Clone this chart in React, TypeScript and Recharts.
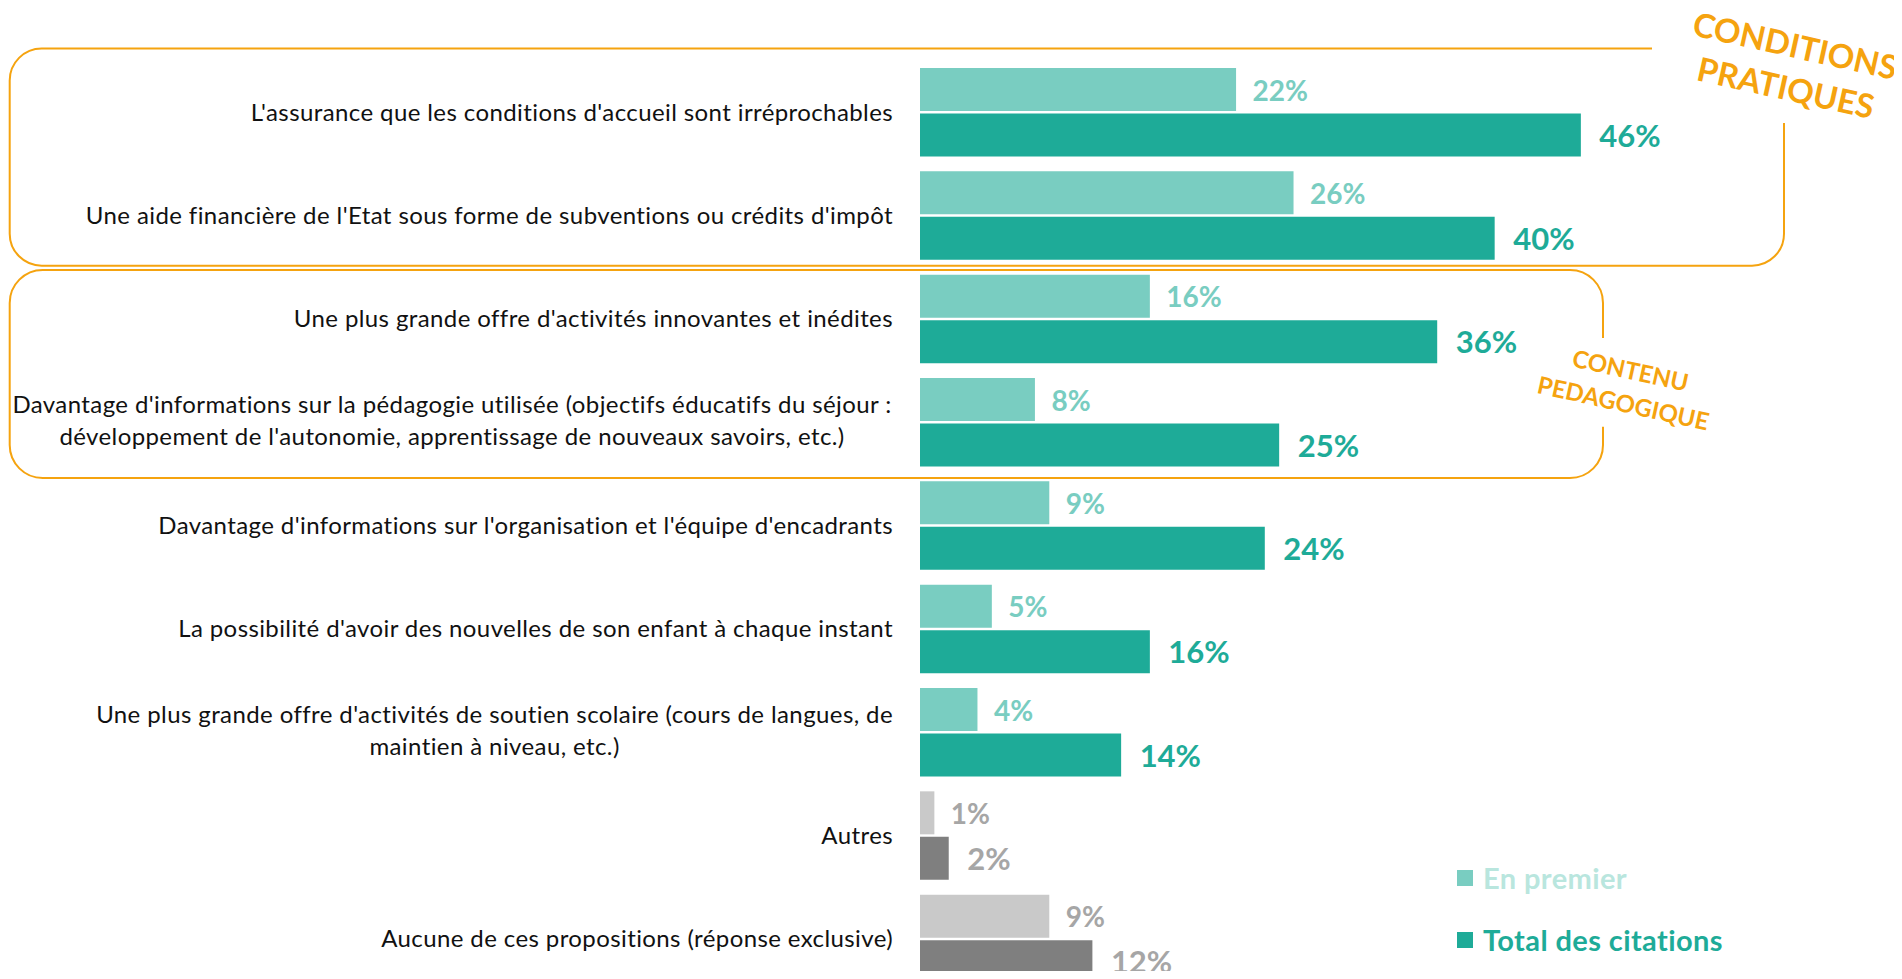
import React from 'react';
import { BarChart, Bar, XAxis, YAxis, Cell, LabelList, Legend } from 'recharts';

const categories = [
  "L'assurance que les conditions d'accueil sont irréprochables",
  "Une aide financière de l'Etat sous forme de subventions ou crédits d'impôt",
  "Une plus grande offre d'activités innovantes et inédites",
  "Davantage d'informations sur la pédagogie utilisée (objectifs éducatifs du séjour :\ndéveloppement de l'autonomie, apprentissage de nouveaux savoirs, etc.)",
  "Davantage d'informations sur l'organisation et l'équipe d'encadrants",
  "La possibilité d'avoir des nouvelles de son enfant à chaque instant",
  "Une plus grande offre d'activités de soutien scolaire (cours de langues, de\nmaintien à niveau, etc.)",
  "Autres",
  "Aucune de ces propositions (réponse exclusive)",
];
const enPremier = [22, 26, 16, 8, 9, 5, 4, 1, 9];
const totalCitations = [46, 40, 36, 25, 24, 16, 14, 2, 12];
const neutralCategories = ["Autres", "Aucune de ces propositions (réponse exclusive)"];
const seriesNames = ["En premier", "Total des citations"];
const groupTitles = [["CONDITIONS", "PRATIQUES"], ["CONTENU", "PEDAGOGIQUE"]];

const LIGHT = '#79cdc1';
const DARK = '#1eab98';
const GREY_LIGHT = '#c9c9c9';
const GREY_DARK = '#7f7f7f';
const GREY_TEXT = '#a6a6a6';
const LEGEND_LIGHT_TEXT = '#b9e6de';
const ORANGE = '#f5a30f';
const FONT = 'Lato, "Open Sans", sans-serif';

const data = categories.map((c, i) => ({
  category: c,
  premier: enPremier[i],
  total: totalCitations[i],
  neutral: neutralCategories.includes(c),
}));

let ctx: CanvasRenderingContext2D | null = null;
const measure = (s: string, font: string, ls: number) => {
  if (!ctx) ctx = document.createElement('canvas').getContext('2d');
  if (!ctx) return s.length * 11;
  ctx.font = font;
  return ctx.measureText(s).width + s.length * ls;
};

const LABEL_FS = 24;
const LABEL_LS = 0.4;

const CategoryTick = (props: any) => {
  const { x, y, payload } = props;
  const lines = String(payload.value).split('\n');
  const widths = lines.map((l) => measure(l, `${LABEL_FS}px Lato`, LABEL_LS));
  const maxW = Math.max(...widths);
  const lh = 31.5;
  const n = lines.length;
  return (
    <g>
      {lines.map((l, i) => (
        <text
          key={i}
          x={n > 1 ? x - maxW / 2 : x}
          y={y + (n > 1 ? 6.5 : 8) + (i - (n - 1) / 2) * lh}
          textAnchor={n > 1 ? 'middle' : 'end'}
          fontFamily={FONT}
          fontSize={LABEL_FS}
          letterSpacing={LABEL_LS}
          fill="#111"
        >
          {l}
        </text>
      ))}
    </g>
  );
};

const makeValueLabel = (series: 'premier' | 'total') => (props: any) => {
  const { x, y, width, height, value, index } = props;
  const row = data[index];
  const neutral = row ? row.neutral : props.payload?.neutral;
  const fs = series === 'premier' ? 28 : 31;
  const shift = series === 'premier' ? 11 : 11.5;
  const dx = series === 'premier' ? 16.5 : 18.5;
  const color = neutral ? GREY_TEXT : series === 'premier' ? LIGHT : DARK;
  return (
    <text
      x={Number(x) + Number(width) + dx}
      y={Number(y) + Number(height) / 2 + shift}
      fill={color}
      fontSize={fs}
      fontWeight={700}
      fontFamily={FONT}
    >
      {value}%
    </text>
  );
};

const legendTextColors: Record<string, string> = {
  [seriesNames[0]]: LEGEND_LIGHT_TEXT,
  [seriesNames[1]]: DARK,
};

const renderLegend = (props: any) => {
  const { payload = [] } = props;
  return (
    <div style={{ display: 'flex', flexDirection: 'column', gap: 31.5 }}>
      {payload.map((e: any, i: number) => (
        <div key={i} style={{ display: 'flex', alignItems: 'center', height: 30 }}>
          <span style={{ width: 16, height: 16, background: e.color, marginRight: 10, display: 'inline-block' }} />
          <span
            style={{
              fontFamily: FONT,
              fontWeight: 700,
              fontSize: 29,
              letterSpacing: 0.4,
              lineHeight: '30px',
              color: legendTextColors[e.value] || e.color,
              whiteSpace: 'nowrap',
            }}
          >
            {e.value}
          </span>
        </div>
      ))}
    </div>
  );
};

const r1 = 32;
const r2 = 33;
const box1 = { l: 9.7, t: 48.5, r: 1784, b: 265.7, gapX: 1652, gapY: 123 };
const box2 = { l: 9.7, t: 270, r: 1603, b: 478, gapTop: 338, gapBottom: 426.7 };

const path1 = `M ${box1.gapX} ${box1.t} L ${box1.l + r1} ${box1.t} A ${r1} ${r1} 0 0 0 ${box1.l} ${box1.t + r1} L ${box1.l} ${box1.b - r1} A ${r1} ${r1} 0 0 0 ${box1.l + r1} ${box1.b} L ${box1.r - r1} ${box1.b} A ${r1} ${r1} 0 0 0 ${box1.r} ${box1.b - r1} L ${box1.r} ${box1.gapY}`;
const path2 = `M ${box2.r} ${box2.gapTop} L ${box2.r} ${box2.t + r2} A ${r2} ${r2} 0 0 0 ${box2.r - r2} ${box2.t} L ${box2.l + r2} ${box2.t} A ${r2} ${r2} 0 0 0 ${box2.l} ${box2.t + r2} L ${box2.l} ${box2.b - r2} A ${r2} ${r2} 0 0 0 ${box2.l + r2} ${box2.b} L ${box2.r - r2} ${box2.b} A ${r2} ${r2} 0 0 0 ${box2.r} ${box2.b - r2} L ${box2.r} ${box2.gapBottom}`;

export default function App() {
  return (
    <div
      style={{
        position: 'relative',
        width: 1902,
        height: 979,
        margin: -8,
        overflow: 'hidden',
        background: '#fff',
      }}
    >
      <BarChart
        width={1902}
        height={1000}
        data={data}
        layout="vertical"
        margin={{ top: 61, right: 120, bottom: 9, left: 0 }}
        barSize={43}
        barGap={2.5}
      >
        <XAxis type="number" domain={[0, 60]} hide />
        <YAxis
          type="category"
          dataKey="category"
          width={920}
          axisLine={false}
          tickLine={false}
          tickSize={0}
          tickMargin={27}
          interval={0}
          tick={<CategoryTick />}
        />
        <Legend
          layout="vertical"
          align="center"
          verticalAlign="middle"
          width={400}
          content={renderLegend}
          wrapperStyle={{ left: 1457, top: 863, width: 400, height: 'auto' }}
        />
        <Bar dataKey="premier" name={seriesNames[0]} fill={LIGHT} isAnimationActive={false}>
          {data.map((d, i) => (
            <Cell key={i} fill={d.neutral ? GREY_LIGHT : LIGHT} />
          ))}
          <LabelList dataKey="premier" content={makeValueLabel('premier')} />
        </Bar>
        <Bar dataKey="total" name={seriesNames[1]} fill={DARK} isAnimationActive={false}>
          {data.map((d, i) => (
            <Cell key={i} fill={d.neutral ? GREY_DARK : DARK} />
          ))}
          <LabelList dataKey="total" content={makeValueLabel('total')} />
        </Bar>
      </BarChart>
      <svg
        width={1902}
        height={979}
        style={{ position: 'absolute', left: 0, top: 0, pointerEvents: 'none' }}
      >
        <path d={path1} fill="none" stroke={ORANGE} strokeWidth={2} />
        <path d={path2} fill="none" stroke={ORANGE} strokeWidth={2} />
        <g transform="translate(1788,78) rotate(12.5)">
          <text x={0} y={-21} textAnchor="middle" fontFamily={FONT} fontSize={33} fontWeight={700} fill={ORANGE}>
            {groupTitles[0][0]}
          </text>
          <text x={0} y={22} textAnchor="middle" fontFamily={FONT} fontSize={33} fontWeight={700} fill={ORANGE}>
            {groupTitles[0][1]}
          </text>
        </g>
        <g transform="translate(1625,395) rotate(12.5)">
          <text x={0} y={-16.5} textAnchor="middle" fontFamily={FONT} fontSize={24} fontWeight={700} fill={ORANGE}>
            {groupTitles[1][0]}
          </text>
          <text x={0} y={17} textAnchor="middle" fontFamily={FONT} fontSize={24} fontWeight={700} fill={ORANGE}>
            {groupTitles[1][1]}
          </text>
        </g>
      </svg>
    </div>
  );
}
